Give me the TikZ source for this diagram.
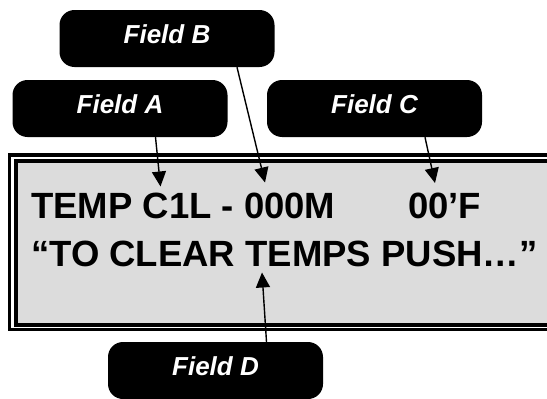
\documentclass[tikz,border=0pt]{standalone}
\usepackage{fontspec}
\setmainfont{Liberation Sans}
\usetikzlibrary{arrows.meta}
\definecolor{lcdgray}{HTML}{DCDCDC}
\begin{document}
\begin{tikzpicture}[x=1pt,y=-1pt,
	field/.style={fill=black,rounded corners=15pt,minimum width=215pt,minimum height=57pt,text=white,text depth=8pt,font=\fontsize{26}{30}\selectfont\bfseries\itshape},
	pointer/.style={line width=1.4pt,-{Triangle[length=15pt,width=14pt]}},
	lcd/.style={inner sep=0pt,anchor=base west,font=\fontsize{36.5}{40}\selectfont\bfseries}]
	\clip (0,0) rectangle (547,399);
	% display
	\draw[line width=3.5pt] (9.5,155) rectangle (570,329.5);
	\draw[line width=3.5pt,fill=lcdgray] (16,161) rectangle (570,325);
	\node[lcd] (lineone) at (31,218) {TEMP C1L - 000M};
	\node[lcd] (degrees) at (408,218) {00’F};
	\node[lcd] (linetwo) at (31,266.5) {“TO CLEAR TEMPS PUSH…”};
	% callouts
	\node[field] (fielda) at (120,108.5) {Field A};
	\node[field] (fieldb) at (167,38.5) {Field B};
	\node[field] (fieldc) at (374.5,108.5) {Field C};
	\node[field] (fieldd) at (215.5,370.5) {Field D};
	\coordinate (tipa) at (160.5,186.5);
	\coordinate (tipb) at (265,182.5);
	\coordinate (tipc) at (435,183);
	\coordinate (tipd) at (262,272.5);
	\draw[pointer] ([xshift=35.5pt]fielda.south)--(tipa);
	\draw[pointer] ([xshift=70pt]fieldb.south)--(tipb);
	\draw[pointer] ([xshift=50.5pt]fieldc.south)--(tipc);
	\draw[pointer] ([xshift=51pt]fieldd.north)--(tipd);
\end{tikzpicture}
\end{document}
